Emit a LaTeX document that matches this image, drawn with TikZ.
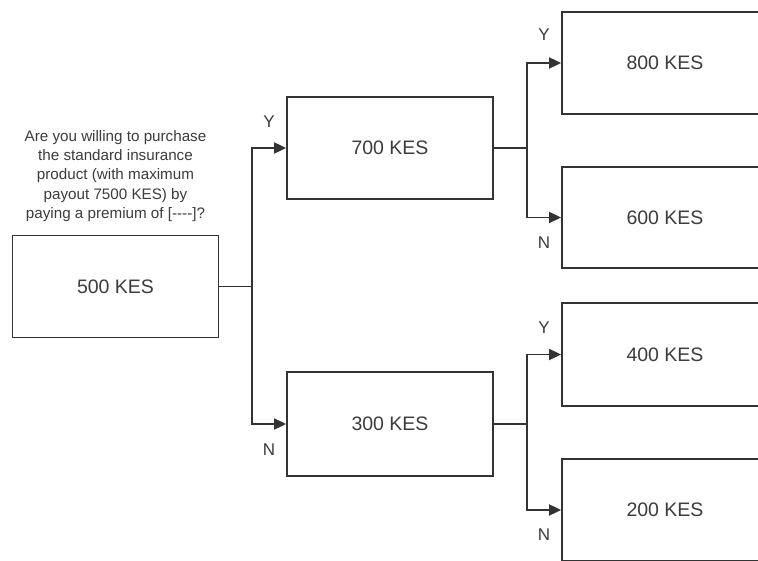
\documentclass[tikz,border=0pt]{standalone}
\usepackage{fontspec}
\setmainfont{Liberation Sans}
\usetikzlibrary{arrows.meta}
\definecolor{linec}{HTML}{333333}
\definecolor{textc}{HTML}{3C3C3C}
\tikzset{
  box/.style={draw=linec, line width=1.8pt, fill=white, minimum width=206pt, minimum height=102pt, inner sep=0pt, text=textc, font=\fontsize{19.5}{22}\selectfont},
  conn/.style={draw=linec, line width=1.8pt},
  arr/.style={conn, -{Triangle[length=12pt,width=11pt]}},
  yn/.style={text=textc, font=\fontsize{17}{20}\selectfont, inner sep=0pt},
  question/.style={text=textc, align=center, inner sep=0pt, font=\fontsize{15.2}{19.3}\selectfont}
}
\begin{document}
\begin{tikzpicture}[x=1pt,y=-1pt]
\useasboundingbox (0,0) rectangle (758,561);
\clip (0,0) rectangle (758,561);
\fill[white] (0,0) rectangle (758,561);

\node[question] (q) at (115.5,176) {Are you willing to purchase\\the standard insurance\\product (with maximum\\payout 7500 KES) by\\paying a premium of [-{}-{}-{}-]?};

\node[box] (n500) at (115.5,286.5) {500 KES};
\node[box] (n700) at (390,148) {700 KES};
\node[box, minimum height=104pt] (n300) at (390,424) {300 KES};
\node[box] (n800) at (665,63) {800 KES};
\node[box, minimum height=101pt] (n600) at (665,217.5) {600 KES};
\node[box, minimum height=103pt] (n400) at (665,354.5) {400 KES};
\node[box] (n200) at (665,510) {200 KES};

\coordinate (j1) at (252,286.5);
\coordinate (j2) at (527,148);
\coordinate (j3) at (527,424);

\draw[conn] (n500.east) -- (j1);
\draw[arr] (j1) |- (n700.west);
\draw[arr] (j1) |- (n300.west);

\draw[conn] (n700.east) -- (j2);
\draw[arr] (j2) |- (n800.west);
\draw[arr] (j2) |- (n600.west);

\draw[conn] (n300.east) -- (j3);
\draw[arr] (j3) |- (n400.west);
\draw[arr] (j3) |- (n200.west);

\node[yn] (y1) at (269,122) {Y};
\node[yn] (m1) at (269,450) {N};
\node[yn] (y2) at (544,35) {Y};
\node[yn] (m2) at (544,243) {N};
\node[yn] (y3) at (544,328) {Y};
\node[yn] (m3) at (544,535) {N};
\end{tikzpicture}
\end{document}
